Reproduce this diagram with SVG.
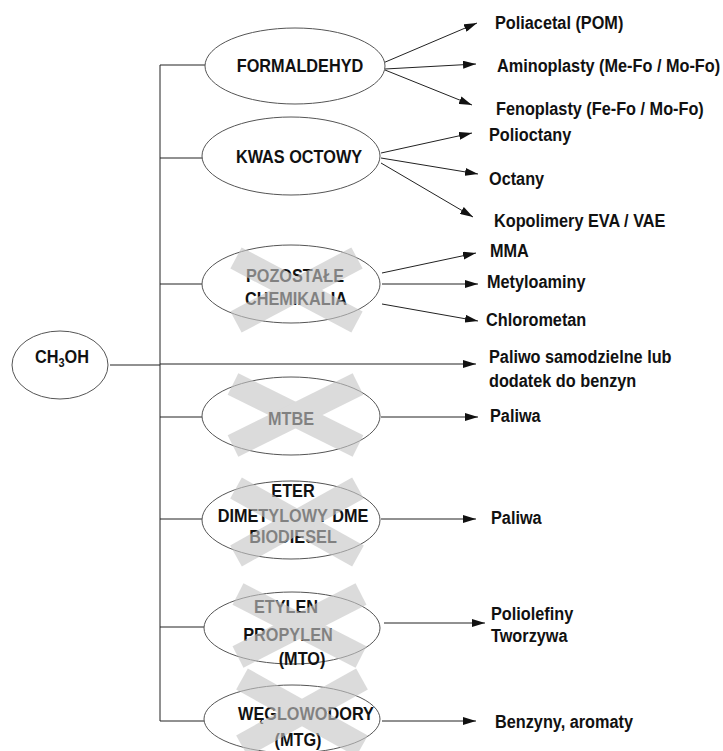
<svg xmlns="http://www.w3.org/2000/svg" width="723" height="751" viewBox="0 0 723 751">
<defs>
<marker id="ah" markerUnits="userSpaceOnUse" markerWidth="13" markerHeight="8" refX="13" refY="4" orient="auto">
<path d="M0,0 L13,4 L0,8 z" fill="#111"/>
</marker>
<style>
.e{fill:#fff;stroke:#555;stroke-width:1}
.t{font-family:"Liberation Sans",Arial,sans-serif;font-weight:bold;font-size:18.5px;fill:#111}
.c{text-anchor:middle}
.ln{stroke:#222;stroke-width:1;fill:none}
.ar{stroke:#222;stroke-width:1;fill:none;marker-end:url(#ah)}
.x line{stroke:#c6c6c6;stroke-width:24}
.x{opacity:0.62}
</style>
</defs>
<rect width="723" height="751" fill="#fff"/>

<g id="connectors">
<line class="ln" x1="110" y1="365" x2="160" y2="365"/>
<line class="ln" x1="160" y1="65" x2="160" y2="721"/>
<line class="ln" x1="160" y1="65" x2="205" y2="65"/>
<line class="ln" x1="160" y1="158" x2="203" y2="158"/>
<line class="ln" x1="160" y1="284" x2="202" y2="284"/>
<line class="ln" x1="160" y1="417" x2="202" y2="417"/>
<line class="ln" x1="160" y1="519" x2="202" y2="519"/>
<line class="ln" x1="160" y1="627" x2="204" y2="627"/>
<line class="ln" x1="160" y1="721" x2="204" y2="721"/>
<line class="ar" x1="160" y1="364" x2="476" y2="364"/>
<line class="ar" x1="383" y1="63" x2="477" y2="23"/>
<line class="ar" x1="385" y1="69" x2="476" y2="64"/>
<line class="ar" x1="385" y1="70" x2="472" y2="105"/>
<line class="ar" x1="381" y1="153" x2="472" y2="133"/>
<line class="ar" x1="381" y1="158" x2="478" y2="174"/>
<line class="ar" x1="381" y1="163" x2="473" y2="217"/>
<line class="ar" x1="382" y1="273" x2="476" y2="253"/>
<line class="ar" x1="382" y1="284" x2="478" y2="284"/>
<line class="ar" x1="382" y1="304" x2="478" y2="321"/>
<line class="ar" x1="381" y1="417" x2="478" y2="417"/>
<line class="ar" x1="381" y1="519" x2="476" y2="519"/>
<line class="ar" x1="384" y1="623" x2="485" y2="623"/>
<line class="ar" x1="382" y1="721" x2="476" y2="721"/>
</g>

<g id="ch3oh">
<ellipse class="e" cx="60" cy="365" rx="48" ry="34"/>
<text class="t" transform="translate(35,363) scale(0.88,1)">CH<tspan font-size="12.5" dy="4">3</tspan><tspan dy="-4">OH</tspan></text>
</g>

<g id="formaldehyd">
<ellipse class="e" cx="295" cy="66" rx="90" ry="38"/>
<text class="t c" transform="translate(300,72) scale(0.88,1)">FORMALDEHYD</text>
</g>

<g id="kwas">
<ellipse class="e" cx="291" cy="156" rx="89" ry="39"/>
<text class="t c" transform="translate(299,163) scale(0.88,1)">KWAS OCTOWY</text>
</g>

<g id="pozostale">
<ellipse class="e" cx="291" cy="284" rx="89" ry="39"/>
<text class="t c" transform="translate(295,282) scale(0.88,1)">POZOSTAŁE</text>
<text class="t c" transform="translate(296,305) scale(0.88,1)">CHEMIKALIA</text>
<g class="x"><line x1="236" y1="258" x2="357" y2="322"/><line x1="236" y1="322" x2="357" y2="258"/></g>
</g>

<g id="mtbe">
<ellipse class="e" cx="291" cy="416" rx="89" ry="39"/>
<text class="t c" transform="translate(291,425) scale(0.88,1)">MTBE</text>
<g class="x"><line x1="233" y1="384" x2="358" y2="446"/><line x1="233" y1="446" x2="358" y2="384"/></g>
</g>

<g id="eter">
<ellipse class="e" cx="291" cy="520" rx="89" ry="39"/>
<text class="t c" transform="translate(293,497) scale(0.88,1)">ETER</text>
<text class="t c" transform="translate(293,522) scale(0.88,1)">DIMETYLOWY DME</text>
<text class="t c" transform="translate(293,543) scale(0.88,1)">BIODIESEL</text>
<g class="x"><line x1="236" y1="488" x2="358" y2="556"/><line x1="236" y1="556" x2="358" y2="488"/></g>
</g>

<g id="etylen">
<ellipse class="e" cx="292" cy="628" rx="88" ry="36"/>
<text class="t c" transform="translate(286,613) scale(0.88,1)">ETYLEN</text>
<text class="t c" transform="translate(288,641) scale(0.88,1)">PROPYLEN</text>
<text class="t c" transform="translate(302,665) scale(0.88,1)">(MTO)</text>
<g class="x"><line x1="238" y1="594" x2="361" y2="657"/><line x1="238" y1="657" x2="361" y2="594"/></g>
</g>

<g id="weglowodory">
<ellipse class="e" cx="292" cy="719" rx="88" ry="34"/>
<text class="t c" transform="translate(306,720) scale(0.88,1)">WĘGLOWODORY</text>
<text class="t c" transform="translate(298,746) scale(0.88,1)">(MTG)</text>
<g class="x"><line x1="242" y1="679" x2="362" y2="746"/><line x1="242" y1="746" x2="362" y2="679"/></g>
</g>

<g id="labels">
<text class="t" transform="translate(495,29) scale(0.88,1)">Poliacetal (POM)</text>
<text class="t" transform="translate(497,72) scale(0.88,1)">Aminoplasty (Me-Fo / Mo-Fo)</text>
<text class="t" transform="translate(496,115) scale(0.88,1)">Fenoplasty (Fe-Fo / Mo-Fo)</text>
<text class="t" transform="translate(489,141) scale(0.88,1)">Polioctany</text>
<text class="t" transform="translate(489,185) scale(0.88,1)">Octany</text>
<text class="t" transform="translate(494,227) scale(0.88,1)">Kopolimery EVA / VAE</text>
<text class="t" transform="translate(490,257) scale(0.88,1)">MMA</text>
<text class="t" transform="translate(487,288) scale(0.88,1)">Metyloaminy</text>
<text class="t" transform="translate(486,326) scale(0.88,1)">Chlorometan</text>
<text class="t" transform="translate(489,363) scale(0.88,1)">Paliwo samodzielne lub</text>
<text class="t" transform="translate(489,387) scale(0.88,1)">dodatek do benzyn</text>
<text class="t" transform="translate(490,422) scale(0.88,1)">Paliwa</text>
<text class="t" transform="translate(491,524) scale(0.88,1)">Paliwa</text>
<text class="t" transform="translate(491,620) scale(0.88,1)">Poliolefiny</text>
<text class="t" transform="translate(491,642) scale(0.88,1)">Tworzywa</text>
<text class="t" transform="translate(495,728) scale(0.88,1)">Benzyny, aromaty</text>
</g>
</svg>
